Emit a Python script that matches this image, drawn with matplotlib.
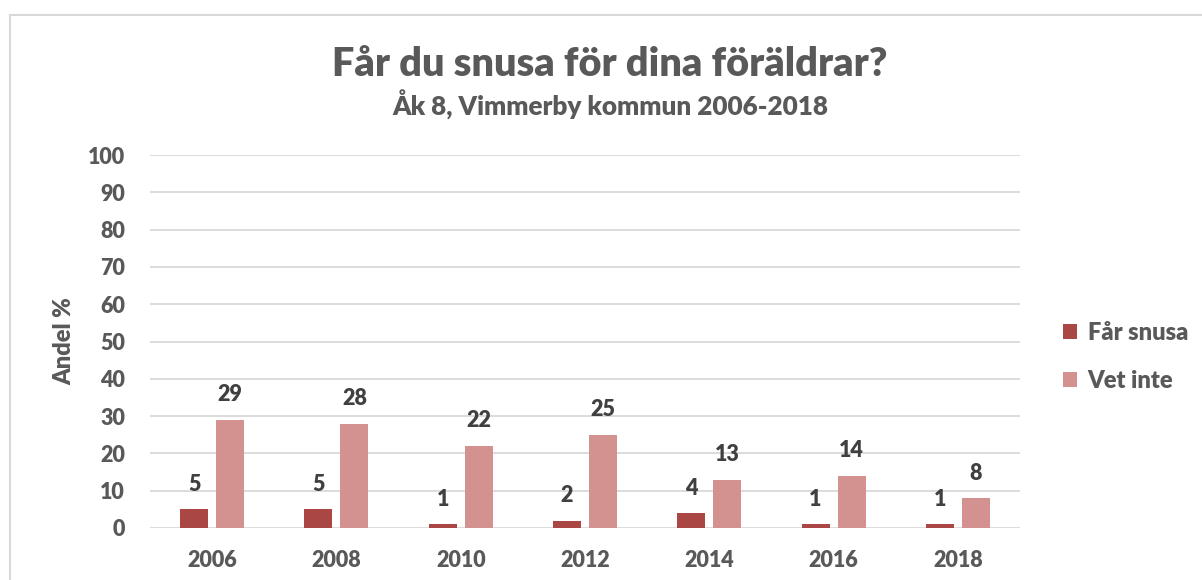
import matplotlib
matplotlib.use("Agg")
import matplotlib.pyplot as plt
import matplotlib.patches as mpatches
import numpy as np

plt.rcParams['font.family'] = ['Lato', 'DejaVu Sans']
plt.rcParams['font.weight'] = 'heavy'

# data
years = ['2006', '2008', '2010', '2012', '2014', '2016', '2018']
far_snusa = [5, 5, 1, 2, 4, 1, 1]
vet_inte = [29, 28, 22, 25, 13, 14, 8]
series_names = ['Får snusa', 'Vet inte']
y_ticks = [0, 10, 20, 30, 40, 50, 60, 70, 80, 90, 100]

dark = '#AA4644'
light = '#D39190'
txt = '#595959'
lbl = '#404040'
gridc = '#D9D9D9'
fw = 'heavy'

fig = plt.figure(figsize=(12.02, 5.80), dpi=100)
ax = fig.add_axes([150 / 1202, 1 - 528 / 580, 870 / 1202, 373 / 580])

x = np.arange(len(years))
w = 0.226
off = 0.145
b1 = ax.bar(x - off, far_snusa, w, color=dark, label=series_names[0], zorder=3)
b2 = ax.bar(x + off, vet_inte, w, color=light, label=series_names[1], zorder=3)

for bars in (b1, b2):
    for r in bars:
        ax.annotate(f'{r.get_height():.0f}', (r.get_x() + r.get_width() / 2, r.get_height()),
                    xytext=(0, 18), textcoords='offset points', ha='center', va='center',
                    fontsize=15.5, fontweight=fw, color=lbl)

ax.set_xlim(-0.5, len(years) - 0.5)
ax.set_ylim(0, 100)
ax.set_yticks(y_ticks)
ax.set_xticks(x)
ax.set_xticklabels(years)
ax.tick_params(axis='both', length=0, labelsize=15.5, colors=txt)
ax.tick_params(axis='y', pad=18)
ax.tick_params(axis='x', pad=16)
for lab in ax.get_xticklabels() + ax.get_yticklabels():
    lab.set_fontweight(fw)
ax.grid(axis='y', color=gridc, linewidth=1.3, zorder=0)
for s in ax.spines.values():
    s.set_visible(False)

ax.set_ylabel('Andel %', fontsize=17, fontweight=fw, color=txt, labelpad=9)

fig.text(610 / 1202, 1 - 64 / 580, 'Får du snusa för dina föräldrar?', ha='center', va='center',
         fontsize=28.5, fontweight=fw, color=txt)
fig.text(610 / 1202, 1 - 105 / 580, 'Åk 8, Vimmerby kommun 2006-2018', ha='center', va='center',
         fontsize=18.8, fontweight=fw, color=txt)

fig.legend(loc='center left', bbox_to_anchor=(1063 / 1202, 1 - 357 / 580), frameon=False,
           handlelength=0.6, handleheight=0.6, handletextpad=0.45,
           labelspacing=1.1, borderpad=0, borderaxespad=0, labelcolor=txt,
           prop={'weight': fw, 'size': 17})

# chart area border (cropped on right and bottom)
fig.patches.append(mpatches.Rectangle((10.5 / 1202, -0.1), 1.2, 1 - 14.5 / 580 + 0.1,
                                      transform=fig.transFigure, fill=False,
                                      edgecolor=gridc, linewidth=1.5, clip_on=False))

fig.savefig('out.png', dpi=100)
